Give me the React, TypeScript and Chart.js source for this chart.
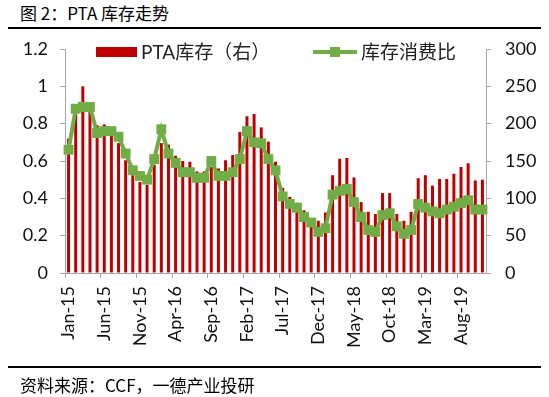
import React, { useEffect, useRef } from "react";
import { Chart, registerables } from "chart.js";

Chart.register(...registerables);

const months: string[] = [
  "Jan-15", "Feb-15", "Mar-15", "Apr-15", "May-15", "Jun-15", "Jul-15", "Aug-15", "Sep-15", "Oct-15", "Nov-15", "Dec-15",
  "Jan-16", "Feb-16", "Mar-16", "Apr-16", "May-16", "Jun-16", "Jul-16", "Aug-16", "Sep-16", "Oct-16", "Nov-16", "Dec-16",
  "Jan-17", "Feb-17", "Mar-17", "Apr-17", "May-17", "Jun-17", "Jul-17", "Aug-17", "Sep-17", "Oct-17", "Nov-17", "Dec-17",
  "Jan-18", "Feb-18", "Mar-18", "Apr-18", "May-18", "Jun-18", "Jul-18", "Aug-18", "Sep-18", "Oct-18", "Nov-18", "Dec-18",
  "Jan-19", "Feb-19", "Mar-19", "Apr-19", "May-19", "Jun-19", "Jul-19", "Aug-19", "Sep-19", "Oct-19", "Nov-19",
];

// PTA库存（右） — right axis
const inventory: number[] = [
  180, 216, 250, 221, 198, 199, 191, 174, 151, 131, 122, 118,
  145, 174, 172, 157, 150, 149, 136, 136, 142, 140, 151, 158,
  189, 210, 213, 195, 176, 149, 114, 102, 94, 84, 64, 70,
  81, 131, 153, 154, 128, 95, 82, 79, 107, 107, 79, 70,
  82, 127, 131, 117, 126, 126, 133, 142, 147, 124, 125,
];

// 库存消费比 — left axis
const ratio: number[] = [
  0.66, 0.88, 0.89, 0.89, 0.75, 0.76, 0.76, 0.73, 0.64, 0.55, 0.52, 0.50,
  0.61, 0.77, 0.64, 0.59, 0.54, 0.54, 0.51, 0.51, 0.60, 0.52, 0.52, 0.54,
  0.61, 0.76, 0.70, 0.695, 0.61, 0.55, 0.41, 0.37, 0.35, 0.30, 0.27, 0.22,
  0.24, 0.42, 0.44, 0.45, 0.38, 0.30, 0.23, 0.22, 0.31, 0.32, 0.25, 0.21,
  0.23, 0.37, 0.35, 0.33, 0.32, 0.34, 0.355, 0.375, 0.39, 0.34, 0.34,
];

const barLabel = "PTA库存（右）";
const lineLabel = "库存消费比";
const titleText = "图 2：PTA 库存走势";
const sourceText = "资料来源：CCF，一德产业投研";

const RED = "#C00000";
const GREEN = "#70AD47";
const AXIS = "#A6A6A6";
const TICK_FONT = { family: "Lato, 'Noto Sans', sans-serif", size: 18 };

export default function App() {
  const ref = useRef<HTMLCanvasElement | null>(null);

  useEffect(() => {
    if (!ref.current) return;
    const chart = new Chart(ref.current, {
      type: "bar",
      data: {
        labels: months,
        datasets: [
          {
            type: "line",
            label: lineLabel,
            data: ratio,
            yAxisID: "y",
            order: 0,
            borderColor: GREEN,
            backgroundColor: GREEN,
            borderWidth: 4,
            pointStyle: "rect",
            pointRadius: 7,
            pointBorderWidth: 0,
            pointBackgroundColor: GREEN,
            tension: 0,
          } as any,
          {
            type: "bar",
            label: barLabel,
            data: inventory,
            yAxisID: "y1",
            order: 1,
            backgroundColor: RED,
            categoryPercentage: 1,
            barPercentage: 0.42,
          } as any,
        ],
      },
      options: {
        animation: false,
        responsive: false,
        maintainAspectRatio: false,
        layout: { padding: { top: 49, left: 0, right: 0, bottom: 0 } },
        plugins: { legend: { display: false }, tooltip: { enabled: false } },
        scales: {
          x: {
            offset: true,
            grid: {
              offset: true,
              drawOnChartArea: false,
              drawTicks: true,
              tickLength: 5,
              color: (ctx: any) => (typeof ctx.index === "number" && ctx.index % 5 === 0 ? AXIS : "rgba(0,0,0,0)"),
            },
            border: { display: true, color: AXIS },
            ticks: {
              autoSkip: false,
              maxRotation: 90,
              minRotation: 90,
              padding: 8,
              color: "#111",
              font: TICK_FONT,
              callback: (_v: any, i: number) => (i % 5 === 0 ? months[i] : ""),
            },
            afterFit: (s: any) => {
              s.height = 124;
            },
          },
          y: {
            position: "left",
            min: 0,
            max: 1.2,
            grid: { drawOnChartArea: false, tickLength: 5, color: AXIS },
            border: { display: true, color: AXIS },
            ticks: {
              stepSize: 0.2,
              padding: 12,
              color: "#111",
              font: TICK_FONT,
              callback: (v: any) => String(Math.round(Number(v) * 10) / 10),
            },
            afterFit: (s: any) => {
              s.width = 65;
            },
          },
          y1: {
            position: "right",
            min: 0,
            max: 300,
            grid: { drawOnChartArea: false, tickLength: 5, color: AXIS },
            border: { display: true, color: AXIS },
            ticks: { stepSize: 50, padding: 14, color: "#111", font: TICK_FONT },
            afterFit: (s: any) => {
              s.width = 63;
            },
          },
        },
      },
    });
    return () => chart.destroy();
  }, []);

  const cjk = "Lato, 'Noto Sans CJK SC', sans-serif";

  return (
    <div style={{ position: "absolute", left: 0, top: 0, width: 549, height: 397, background: "#fff", overflow: "hidden" }}>
      <div style={{ position: "absolute", left: 20, top: 2, fontFamily: "'Noto Sans CJK SC', sans-serif", fontSize: 17, lineHeight: "22px", color: "#000", whiteSpace: "nowrap" }}>
        {titleText}
      </div>
      <div style={{ position: "absolute", left: 8, top: 27, width: 533, height: 2, background: "#000" }} />
      <canvas ref={ref} width={549} height={397} style={{ position: "absolute", left: 0, top: 0, width: 549, height: 397 }} />
      {/* legend */}
      <div style={{ position: "absolute", left: 96, top: 47, width: 41, height: 10, background: RED }} />
      <div style={{ position: "absolute", left: 141, top: 40, fontFamily: cjk, fontSize: 19, lineHeight: "24px", color: "#222", whiteSpace: "nowrap" }}>
        {barLabel}
      </div>
      <div style={{ position: "absolute", left: 313, top: 50, width: 44, height: 4, background: GREEN }} />
      <div style={{ position: "absolute", left: 330, top: 47, width: 10, height: 10, background: GREEN }} />
      <div style={{ position: "absolute", left: 361, top: 40, fontFamily: cjk, fontSize: 19, lineHeight: "24px", color: "#222", whiteSpace: "nowrap" }}>
        {lineLabel}
      </div>
      <div style={{ position: "absolute", left: 8, top: 366, width: 533, height: 2, background: "#000" }} />
      <div style={{ position: "absolute", left: 20, top: 374, fontFamily: "'Noto Sans CJK SC', sans-serif", fontSize: 17, lineHeight: "22px", color: "#000", whiteSpace: "nowrap" }}>
        {sourceText}
      </div>
    </div>
  );
}
